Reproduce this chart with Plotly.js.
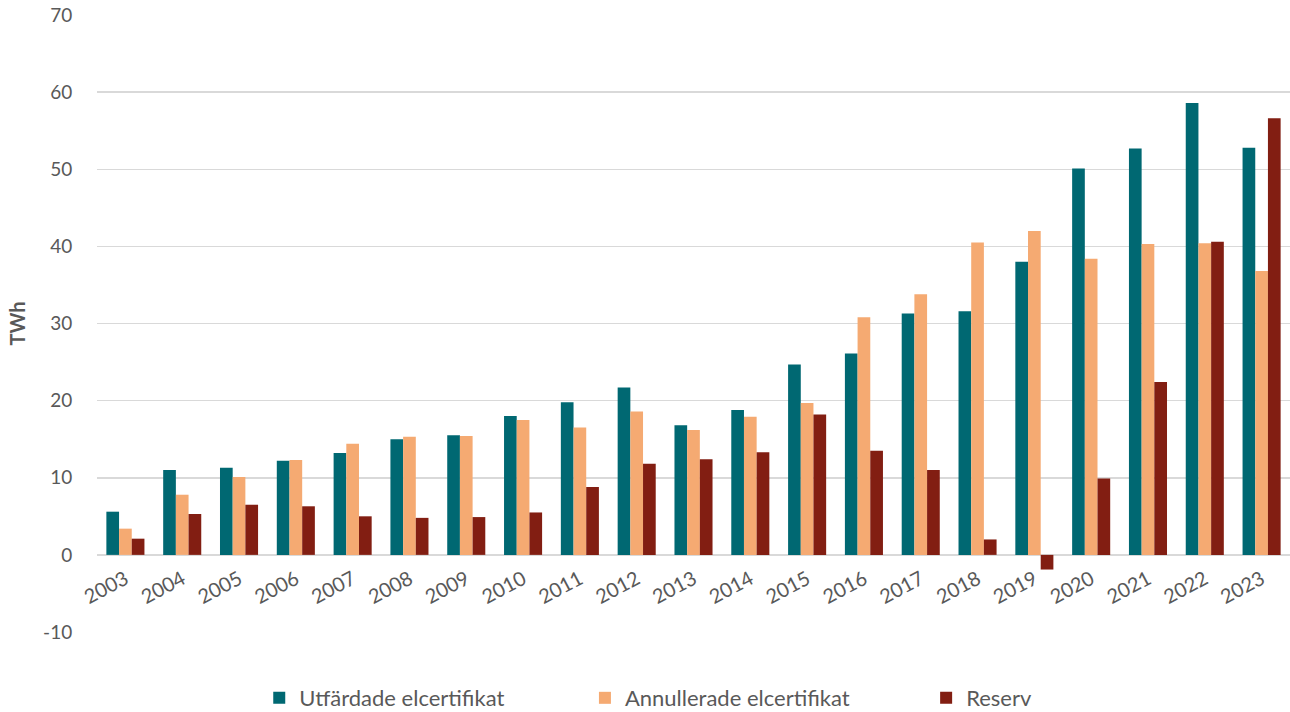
<!DOCTYPE html>
<html>
<head>
<meta charset="utf-8">
<script src="https://cdn.plot.ly/plotly-3.0.1.min.js"></script>
<style>html,body{margin:0;padding:0;background:#fff;}#chart{width:1290px;height:712px;}</style>
</head>
<body>
<div id="chart"></div>
<script>
var years = ["2003","2004","2005","2006","2007","2008","2009","2010","2011","2012","2013","2014","2015","2016","2017","2018","2019","2020","2021","2022","2023"];
var utfardade = [5.6, 11.0, 11.3, 12.2, 13.2, 15.0, 15.5, 18.0, 19.8, 21.7, 16.8, 18.8, 24.7, 26.1, 31.3, 31.6, 38.0, 50.1, 52.7, 58.6, 52.8];
var annullerade = [3.4, 7.8, 10.1, 12.3, 14.4, 15.3, 15.4, 17.5, 16.5, 18.6, 16.2, 17.9, 19.7, 30.8, 33.8, 40.5, 42.0, 38.4, 40.3, 40.4, 36.8];
var reserv = [2.1, 5.3, 6.5, 6.3, 5.0, 4.8, 4.9, 5.5, 8.8, 11.8, 12.4, 13.3, 18.2, 13.5, 11.0, 2.0, -1.9, 9.9, 22.4, 40.6, 56.6];
var seriesNames = ["Utfärdade elcertifikat", "Annullerade elcertifikat", "Reserv"];
var yTicks = [-10, 0, 10, 20, 30, 40, 50, 60, 70];
var yMin = -10, yMax = 70;

var FONT = "Lato, 'Open Sans', sans-serif";
var GREY = "#595959";
var colors = ["#006872", "#F5AA72", "#821E12"];
var series = [utfardade, annullerade, reserv];
var legendIds = ["legend", "legend2", "legend3"];

var traces = series.map(function (vals, i) {
  return {
    type: "bar",
    x: years,
    y: vals,
    name: seriesNames[i],
    legend: legendIds[i],
    marker: {color: colors[i], line: {width: 0}},
    hoverinfo: "x+y+name"
  };
});

function leg(x) {
  return {
    orientation: "h", x: x, xanchor: "left", y: -0.107, yanchor: "middle",
    font: {family: FONT, size: 22, color: GREY},
    bgcolor: "rgba(0,0,0,0)", itemwidth: 30, tracegroupgap: 0
  };
}

var layout = {
  width: 1290, height: 712,
  margin: {l: 97, r: 0, t: 15, b: 80, autoexpand: false},
  paper_bgcolor: "#fff", plot_bgcolor: "#fff",
  barmode: "group", bargap: 0.33, bargroupgap: 0,
  font: {family: FONT, color: GREY},
  xaxis: {
    type: "category",
    anchor: "free",
    position: (0 - yMin) / (yMax - yMin),
    tickangle: -28,
    tickfont: {family: FONT, size: 20, color: GREY},
    showgrid: false, showline: false, zeroline: false,
    ticks: "outside", ticklen: 4, tickcolor: "rgba(0,0,0,0)"
  },
  yaxis: {
    range: [yMin, yMax],
    tickvals: yTicks,
    ticktext: yTicks.map(String),
    tickfont: {family: FONT, size: 19, color: GREY},
    showgrid: true, gridcolor: "#D9D9D9", gridwidth: 1.5,
    zeroline: true, zerolinecolor: "#D9D9D9", zerolinewidth: 1.5,
    showline: false,
    ticks: "outside", ticklen: 20, tickcolor: "rgba(0,0,0,0)",
    title: {text: "<b>TWh</b>", font: {family: FONT, size: 20, color: GREY}, standoff: 12}
  },
  showlegend: true,
  legend: leg(0.136),
  legend2: leg(0.409),
  legend3: leg(0.695)
};

Plotly.newPlot("chart", traces, layout, {displayModeBar: false, staticPlot: true});
</script>
</body>
</html>
